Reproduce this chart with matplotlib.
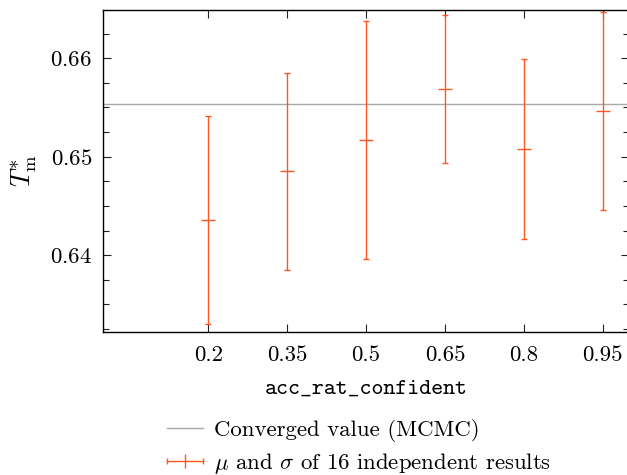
import matplotlib
matplotlib.use("Agg")
import matplotlib.pyplot as plt
from matplotlib.container import ErrorbarContainer
from matplotlib.legend_handler import HandlerBase
from matplotlib.lines import Line2D
from matplotlib.ticker import FixedLocator, MultipleLocator

# scan over acc_rat_confident, 16 independent runs per setting
acc_rat_confident = [0.2, 0.35, 0.5, 0.65, 0.8, 0.95]
tm_mean = [0.64355, 0.64850, 0.65172, 0.65686, 0.65079, 0.65464]
tm_std = [0.01058, 0.00997, 0.01211, 0.00754, 0.00917, 0.01010]
tm_mcmc = 0.65535
xtick_labels = ["0.2", "0.35", "0.5", "0.65", "0.8", "0.95"]

ORANGE = "#ff5722"
GREY = "#a8a8a8"

plt.rcParams["font.family"] = "serif"
plt.rcParams["font.serif"] = ["cmr10"]
plt.rcParams["mathtext.fontset"] = "cm"
plt.rcParams["axes.formatter.use_mathtext"] = True
plt.rcParams["font.size"] = 16.4


class HandlerMeanStd(HandlerBase):
    """Horizontal bar with end caps and a centre tick."""

    def create_artists(self, legend, orig_handle, xdescent, ydescent,
                       width, height, fontsize, trans):
        y = height / 2 - ydescent
        x0, x1 = -xdescent, width - xdescent
        bar = Line2D([x0, x1], [y, y], color=ORANGE, lw=1.0)
        caps = Line2D([x0, x1], [y, y], ls="none", marker="|",
                      ms=5, mew=1.0, color=ORANGE)
        mid = Line2D([(x0 + x1) / 2], [y], ls="none", marker="|",
                     ms=10, mew=1.0, color=ORANGE)
        for a in (bar, caps, mid):
            a.set_transform(trans)
        return [bar, caps, mid]


fig = plt.figure(figsize=(6.27, 4.75), dpi=100)
ax = fig.add_axes([103 / 627, 1 - 332 / 475, 526 / 627, 322 / 475])

ax.axhline(tm_mcmc, color=GREY, lw=1.0, label="Converged value (MCMC)")
eb = ax.errorbar(acc_rat_confident, tm_mean, yerr=tm_std, fmt="_",
                 color=ORANGE, ms=9.5, mew=1.0, elinewidth=1.0,
                 capsize=2.2, capthick=1.0,
                 label=r"$\mu$ and $\sigma$ of 16 independent results")

ax.set_xlim(0, 1)
ax.set_ylim(0.6322, 0.6649)
ax.xaxis.set_major_locator(FixedLocator(acc_rat_confident))
ax.set_xticklabels(xtick_labels)
ax.yaxis.set_major_locator(MultipleLocator(0.01))
ax.yaxis.set_minor_locator(MultipleLocator(0.0025))
ax.tick_params(which="both", direction="in", top=True, right=True,
               width=0.8, color="#222222")
ax.tick_params(which="major", length=6)
ax.tick_params(axis="x", which="major", pad=9.5)
ax.tick_params(axis="y", which="major", pad=8)
ax.tick_params(which="minor", length=4.3)
for sp in ax.spines.values():
    sp.set_linewidth(1.0)

ax.set_xlabel("acc_rat_confident", family="cmtt10", labelpad=11)
ax.set_ylabel(r"$T^{*}_{\mathrm{m}}$", fontsize=19, labelpad=8)

ax.legend(handles=[ax.lines[0], eb],
          handler_map={ErrorbarContainer: HandlerMeanStd()},
          loc="upper center", bbox_to_anchor=(0.487, -0.243),
          frameon=False, handlelength=1.55, handletextpad=0.5,
          labelspacing=0.38, borderaxespad=0)

fig.savefig("out.png", dpi=100)
